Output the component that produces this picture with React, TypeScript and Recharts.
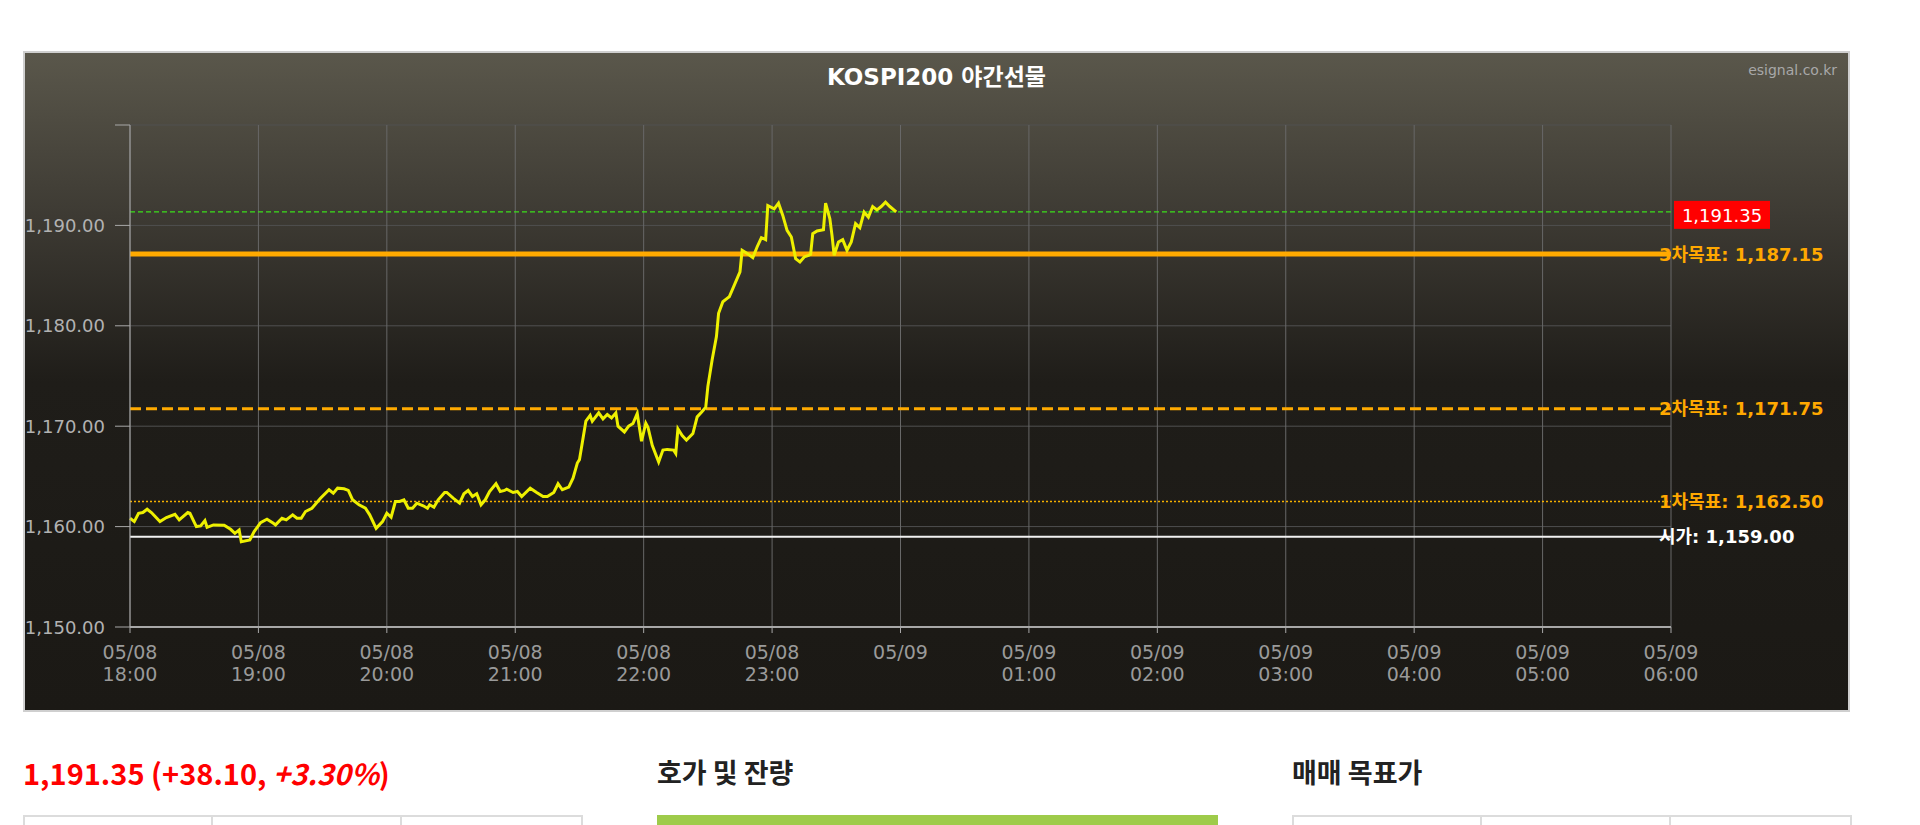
import React from 'react';
import { LineChart, Line, XAxis, YAxis, CartesianGrid, ReferenceLine } from 'recharts';

// minutes after 05/08 18:00
const minutes = [
  0, 2, 4, 6, 8, 10, 14, 17, 21, 23, 27, 28, 31, 33, 35, 36, 39, 44, 47, 49, 51, 52, 56, 58,
  61, 64, 67, 68, 71, 73, 76, 78, 80, 82, 85, 89, 93, 95, 97, 100, 102, 104, 107, 110, 112, 115, 118,
  120, 122, 124, 126, 128, 130, 132, 134, 137, 139, 140, 142, 144, 147, 148, 151, 154, 156, 158, 160,
  162, 164, 166, 168, 171, 173, 175, 176, 179, 181, 183, 187, 190, 193, 195, 198, 200, 202, 205, 207,
  209, 210, 213, 215, 216, 219, 221, 223, 225, 227, 228, 231, 233, 235, 237, 239, 241, 242, 244,
  247, 249, 251, 254, 255, 256, 258, 260, 263, 265, 267, 269, 270, 272, 274, 275, 277, 279, 280, 282,
  285, 286, 288, 291, 293, 295, 297, 298, 301, 303, 305, 307, 309, 311, 313, 315, 317, 318, 319, 321,
  324, 325, 327, 328, 329, 331, 333, 335, 337, 339, 341, 343, 345, 347, 349, 351, 353, 355, 358,
];

const prices = [
  1160.83, 1160.5, 1161.33, 1161.4, 1161.73, 1161.4, 1160.5, 1160.9, 1161.23, 1160.67, 1161.4, 1161.33,
  1160.0, 1160.07, 1160.6, 1159.93, 1160.17, 1160.13, 1159.73, 1159.33, 1159.67, 1158.5, 1158.67, 1159.5,
  1160.4, 1160.73, 1160.33, 1160.17, 1160.83, 1160.67, 1161.17, 1160.83, 1160.83, 1161.5, 1161.83, 1162.83,
  1163.67, 1163.33, 1163.83, 1163.77, 1163.6, 1162.67, 1162.17, 1161.83, 1161.17, 1159.83, 1160.5,
  1161.33, 1160.93, 1162.5, 1162.5, 1162.67, 1161.83, 1161.83, 1162.33, 1162.07, 1161.83, 1162.17, 1161.93,
  1162.67, 1163.4, 1163.4, 1162.83, 1162.33, 1163.27, 1163.6, 1163.0, 1163.27, 1162.17, 1162.67, 1163.5,
  1164.27, 1163.5, 1163.6, 1163.73, 1163.4, 1163.5, 1163.0, 1163.83, 1163.4, 1163.0, 1163.0, 1163.4,
  1164.27, 1163.67, 1163.93, 1164.83, 1166.33, 1166.67, 1170.5, 1171.07, 1170.5, 1171.33, 1170.73, 1171.17,
  1170.83, 1171.33, 1170.0, 1169.43, 1170.0, 1170.27, 1171.27, 1168.5, 1170.3, 1169.9, 1168.1,
  1166.43, 1167.62, 1167.69, 1167.62, 1167.29, 1169.74, 1169.07, 1168.61, 1169.27, 1170.93, 1171.39, 1171.88,
  1173.97, 1176.61, 1178.93, 1181.24, 1182.4, 1182.73, 1182.89, 1183.88, 1185.37, 1187.52, 1187.26, 1186.79,
  1187.85, 1188.78, 1188.58, 1191.98, 1191.65, 1192.21, 1190.99, 1189.5, 1188.84, 1186.69, 1186.36, 1186.86,
  1187.02, 1187.12, 1189.17, 1189.44, 1189.57, 1192.21, 1190.66, 1189.01, 1187.02, 1188.35, 1188.58, 1187.52,
  1188.35, 1190.17, 1189.77, 1191.32, 1190.83, 1191.88, 1191.55, 1191.88, 1192.31, 1191.88, 1191.35,
];

const tickMinutes = [0, 60, 120, 180, 240, 300, 360, 420, 480, 540, 600, 660, 720];
const tickDates = ['05/08', '05/08', '05/08', '05/08', '05/08', '05/08', '05/09', '05/09', '05/09', '05/09', '05/09', '05/09', '05/09'];
const tickTimes = ['18:00', '19:00', '20:00', '21:00', '22:00', '23:00', '', '01:00', '02:00', '03:00', '04:00', '05:00', '06:00'];
const priceTicks = [1150, 1160, 1170, 1180, 1190, 1200];

const lastPrice = 1191.35;
const openPrice = 1159.0;
const targetNames = ['3차목표', '2차목표', '1차목표'];
const targetPrices = [1187.15, 1171.75, 1162.5];

const chartData = minutes.map((t, i) => ({ t, price: prices[i] }));

const FONT = "'DejaVu Sans', 'Noto Sans CJK KR', sans-serif";
const KR = "'Noto Sans CJK KR', sans-serif";

const fmt = (v: number) =>
  v.toLocaleString('en-US', { minimumFractionDigits: 2, maximumFractionDigits: 2 });

const TimeTick = ({ x, y, payload }: any) => {
  const i = tickMinutes.indexOf(payload.value);
  return (
    <text x={x} y={y} textAnchor="middle" fill="#9a9a9a" fontSize={19} fontFamily={FONT}>
      <tspan x={x} dy={23.5}>{tickDates[i]}</tspan>
      {tickTimes[i] ? <tspan x={x} dy={22.5}>{tickTimes[i]}</tspan> : null}
    </text>
  );
};

const PriceTick = ({ x, y, payload }: any) => {
  // top tick has no label
  if (payload.value === priceTicks[priceTicks.length - 1]) return <g />;
  return (
    <text x={x} y={y} dy={6.5} textAnchor="end" fill="#b2b2b2" fontSize={18} fontFamily={FONT}>
      {fmt(payload.value)}
    </text>
  );
};

const LevelLabel = ({ viewBox, text, color }: any) => {
  if (!viewBox) return null;
  const { x, y, width } = viewBox;
  return (
    <text x={x + width - 12} y={y} dy={6.5} fill={color} fontSize={18} fontWeight="bold" fontFamily={FONT}>
      {text}
    </text>
  );
};

const PriceBadge = ({ viewBox, text }: any) => {
  if (!viewBox) return null;
  const { x, y, width } = viewBox;
  const bx = x + width + 3;
  return (
    <g>
      <rect x={bx} y={y - 11} width={96} height={28} fill="#ff0000" />
      <text x={bx + 48} y={y + 3.5} dy={6.5} textAnchor="middle" fill="#ffffff" fontSize={18} fontFamily={FONT}>
        {text}
      </text>
    </g>
  );
};

export default function App() {
  return (
    <div style={{ position: 'absolute', left: 0, top: 0, width: 1920, height: 825, background: '#fff', overflow: 'hidden' }}>
      <div
        style={{
          position: 'absolute',
          left: 23,
          top: 51,
          width: 1827,
          height: 661,
          boxSizing: 'border-box',
          border: '2px solid #cfcfcf',
          background: 'linear-gradient(to bottom, #5a574b 0%, #3d3a33 25%, #1f1d19 50%, #1b1915 100%)',
        }}
      >
        <div
          style={{
            position: 'absolute', left: 0, right: 0, top: 12, textAlign: 'center',
            color: '#fff', fontWeight: 'bold', fontSize: 23, lineHeight: '24px', fontFamily: FONT,
          }}
        >
          KOSPI200 야간선물
        </div>
        <div
          style={{
            position: 'absolute', right: 11, top: 9, color: '#a8a8a8',
            fontSize: 14, lineHeight: '16px', fontFamily: FONT,
          }}
        >
          esignal.co.kr
        </div>
        <LineChart width={1823} height={657} data={chartData} margin={{ top: 72, right: 177, left: 0, bottom: 0 }}>
          <CartesianGrid vertical={false} stroke="#505050" horizontalValues={priceTicks} />
          <CartesianGrid horizontal={false} stroke="#686868" verticalValues={tickMinutes} />
          <XAxis
            type="number"
            dataKey="t"
            domain={[0, 720]}
            ticks={tickMinutes}
            interval={0}
            height={83}
            tickSize={6}
            tickMargin={2}
            stroke="#a8a8a8"
            axisLine={{ stroke: '#a8a8a8', strokeWidth: 2 }}
            tickLine={{ stroke: '#a8a8a8' }}
            tick={<TimeTick />}
          />
          <YAxis
            type="number"
            domain={[1150, 1200]}
            ticks={priceTicks}
            interval={0}
            width={105}
            tickSize={15}
            tickMargin={10}
            axisLine={{ stroke: '#a8a8a8' }}
            tickLine={{ stroke: '#a8a8a8' }}
            tick={<PriceTick />}
          />
          <ReferenceLine y={openPrice} stroke="#f2f2f2" strokeWidth={2} label={<LevelLabel text={`시가: ${fmt(openPrice)}`} color="#ffffff" />} />
          <ReferenceLine y={targetPrices[2]} stroke="#f5b000" strokeWidth={1.5} strokeDasharray="2 2" label={<LevelLabel text={`${targetNames[2]}: ${fmt(targetPrices[2])}`} color="#ffa800" />} />
          <ReferenceLine y={targetPrices[1]} stroke="#ffaa00" strokeWidth={3} strokeDasharray="11 5" label={<LevelLabel text={`${targetNames[1]}: ${fmt(targetPrices[1])}`} color="#ffa800" />} />
          <ReferenceLine y={targetPrices[0]} stroke="#ffaa00" strokeWidth={5} label={<LevelLabel text={`${targetNames[0]}: ${fmt(targetPrices[0])}`} color="#ffa800" />} />
          <ReferenceLine y={lastPrice} stroke="#3be01a" strokeWidth={1.3} strokeDasharray="5 3" label={<PriceBadge text={fmt(lastPrice)} />} />
          <Line
            type="linear"
            dataKey="price"
            stroke="#eef000"
            strokeWidth={3}
            dot={false}
            activeDot={false}
            isAnimationActive={false}
          />
        </LineChart>
      </div>

      <div style={{ position: 'absolute', left: 23, top: 755, fontFamily: KR, fontWeight: 'bold', fontSize: 29, lineHeight: '34px', color: '#ff0000', whiteSpace: 'nowrap' }}>
        1,191.35 (+38.10, <i>+3.30%</i>)
      </div>
      <div style={{ position: 'absolute', left: 657, top: 755, fontFamily: KR, fontWeight: 'bold', fontSize: 27, lineHeight: '34px', color: '#222' }}>
        호가 및 잔량
      </div>
      <div style={{ position: 'absolute', left: 1292, top: 755, fontFamily: KR, fontWeight: 'bold', fontSize: 27, lineHeight: '34px', color: '#222' }}>
        매매 목표가
      </div>

      <div style={{ position: 'absolute', left: 23, top: 815, width: 560, height: 20, boxSizing: 'border-box', border: '2px solid #dcdcdc', display: 'flex' }}>
        <div style={{ width: 186, borderRight: '2px solid #dcdcdc' }} />
        <div style={{ width: 187, borderRight: '2px solid #dcdcdc' }} />
      </div>
      <div style={{ position: 'absolute', left: 657, top: 815, width: 561, height: 20, background: '#9ecb4a' }} />
      <div style={{ position: 'absolute', left: 1292, top: 815, width: 560, height: 20, boxSizing: 'border-box', border: '2px solid #dcdcdc', display: 'flex' }}>
        <div style={{ width: 186, borderRight: '2px solid #dcdcdc' }} />
        <div style={{ width: 187, borderRight: '2px solid #dcdcdc' }} />
      </div>
    </div>
  );
}
